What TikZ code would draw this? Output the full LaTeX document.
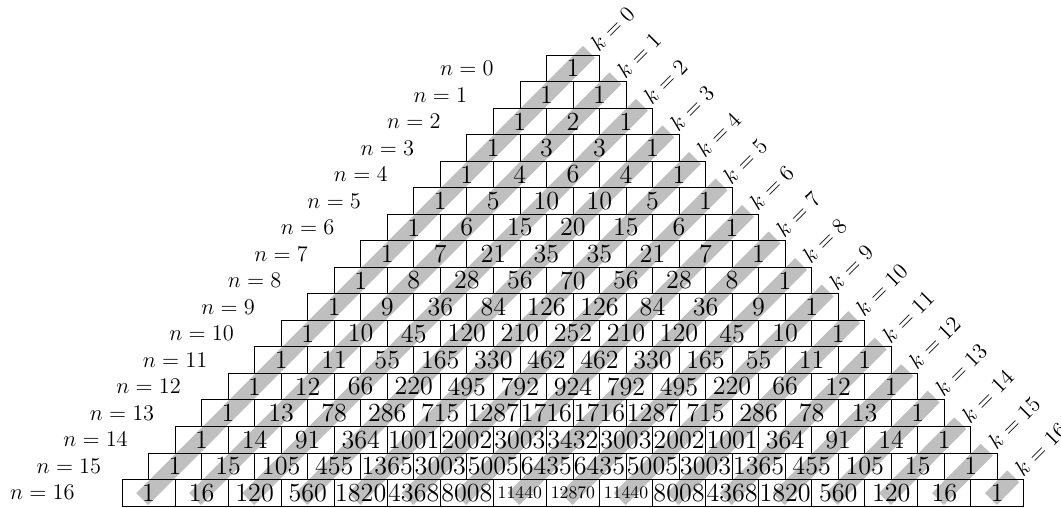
\documentclass[tikz,border=0pt]{standalone}
\begin{document}
\begin{tikzpicture}[
  cell/.style={draw, minimum width=1cm, minimum height=0.5cm, inner sep=0pt, font=\fontsize{14}{17}\selectfont},
  band/.style={line width=9pt, gray!50},
  lbl/.style={font=\large}]
  \useasboundingbox (-10.80,-8.52) rectangle (9.20,1.037);
  \foreach \k in {0,...,16} {
    \coordinate (top-\k) at ({\k/2+0.30},{-\k/2+0.06});
    \coordinate (bot-\k) at ({\k-8.12},-8.37);
    \draw[band] (top-\k) -- (bot-\k);
    \node[lbl, rotate=45, anchor=west] (k-\k) at (top-\k) {$k=\k$};
  }
  \foreach \n/\row in {0/{1}, 1/{1,1}, 2/{1,2,1}, 3/{1,3,3,1}, 4/{1,4,6,4,1},
      5/{1,5,10,10,5,1}, 6/{1,6,15,20,15,6,1}, 7/{1,7,21,35,35,21,7,1},
      8/{1,8,28,56,70,56,28,8,1}, 9/{1,9,36,84,126,126,84,36,9,1},
      10/{1,10,45,120,210,252,210,120,45,10,1},
      11/{1,11,55,165,330,462,462,330,165,55,11,1},
      12/{1,12,66,220,495,792,924,792,495,220,66,12,1},
      13/{1,13,78,286,715,1287,1716,1716,1287,715,286,78,13,1},
      14/{1,14,91,364,1001,2002,3003,3432,3003,2002,1001,364,91,14,1},
      15/{1,15,105,455,1365,3003,5005,6435,6435,5005,3003,1365,455,105,15,1},
      16/{1,16,120,560,1820,4368,8008,11440,12870,11440,8008,4368,1820,560,120,16,1}} {
    \node[lbl] (n-\n) at ({-(\n+1)/2-1.5},{-\n/2-0.25}) {$n=\n$};
    \foreach \v [count=\i from 0] in \row {
      \node[cell] (c-\n-\i) at ({\i-\n/2},{-\n/2-0.25}) {\ifnum\v>9999 \fontsize{9.5}{11}\selectfont\fi\v};
    }
  }
\end{tikzpicture}
\end{document}
